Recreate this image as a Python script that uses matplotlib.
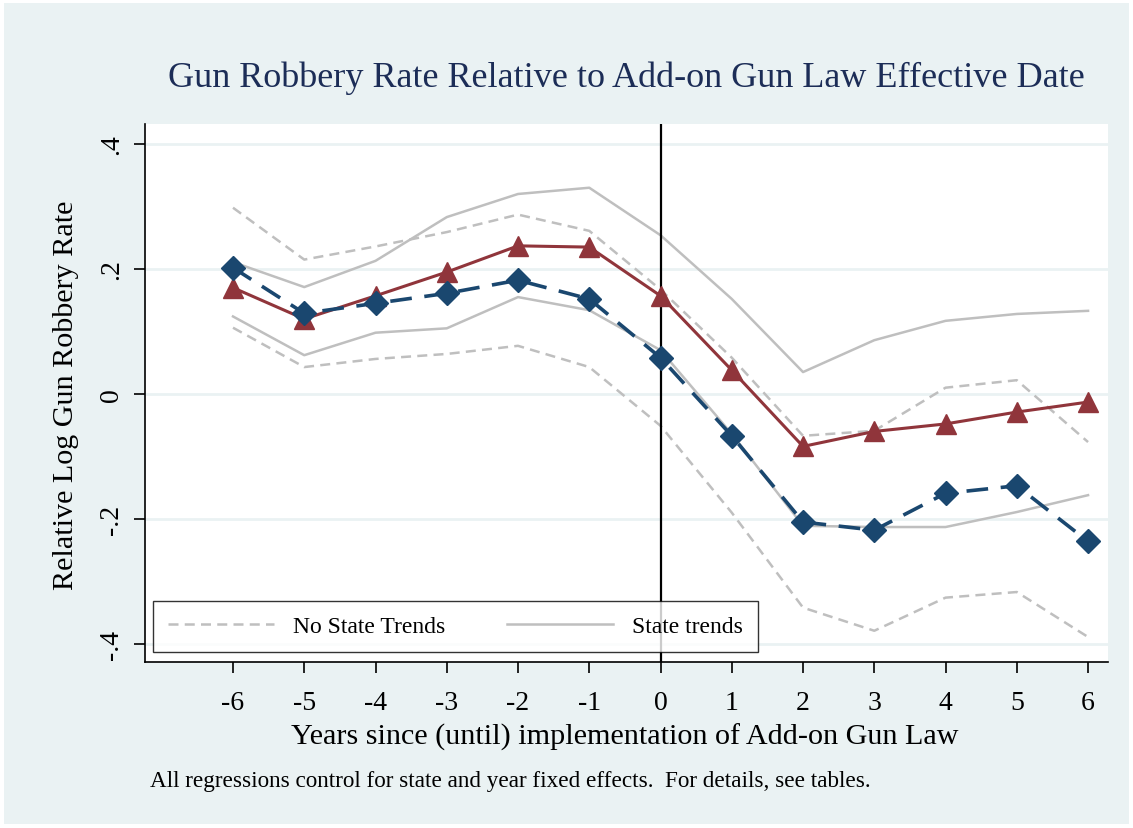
import matplotlib
matplotlib.use('Agg')
import matplotlib.pyplot as plt
from matplotlib.patches import Rectangle

plt.rcParams['font.family'] = ['Liberation Serif', 'DejaVu Serif']

years = [-6, -5, -4, -3, -2, -1, 0, 1, 2, 3, 4, 5, 6]

# point estimates
no_trends = [0.170, 0.120, 0.157, 0.195, 0.237, 0.235, 0.157, 0.038, -0.084, -0.060, -0.048, -0.029, -0.013]
state_trends = [0.202, 0.129, 0.145, 0.161, 0.182, 0.152, 0.058, -0.067, -0.205, -0.218, -0.159, -0.147, -0.236]

# confidence bands
no_trends_hi = [0.298, 0.215, 0.236, 0.259, 0.287, 0.261, 0.167, 0.058, -0.067, -0.059, 0.010, 0.022, -0.077]
no_trends_lo = [0.106, 0.043, 0.056, 0.064, 0.077, 0.043, -0.051, -0.190, -0.342, -0.379, -0.326, -0.317, -0.389]
state_hi = [0.211, 0.171, 0.213, 0.283, 0.320, 0.330, 0.254, 0.152, 0.035, 0.086, 0.117, 0.128, 0.133]
state_lo = [0.124, 0.062, 0.098, 0.105, 0.155, 0.134, 0.070, -0.064, -0.211, -0.213, -0.213, -0.189, -0.162]

yticks = [-0.4, -0.2, 0, 0.2, 0.4]
ytick_labels = ['-.4', '-.2', '0', '.2', '.4']

bg = '#eaf2f3'
gray = '#bfbfbf'
red = '#90353b'
navy = '#1a476f'

W, H = 1133, 829
fig = plt.figure(figsize=(W / 100, H / 100), dpi=100, facecolor='white')
fig.patches.append(Rectangle((4 / W, 4 / H), 1 - 8 / W, 1 - 8 / H, transform=fig.transFigure,
                             facecolor=bg, edgecolor='none', zorder=-1))

ax = fig.add_axes([145 / W, (H - 663) / H, (1108 - 145) / W, (663 - 125) / H])
ax.set_facecolor('white')

ax.plot(years, no_trends_hi, color=gray, lw=1.8, dashes=(4, 2.5), label='No State Trends', zorder=2)
ax.plot(years, no_trends_lo, color=gray, lw=1.8, dashes=(4, 2.5), zorder=2)
ax.plot(years, state_hi, color=gray, lw=1.8, label='State trends', zorder=2)
ax.plot(years, state_lo, color=gray, lw=1.8, zorder=2)

ax.plot(years, no_trends, color=red, lw=2.2, marker='^', ms=14, zorder=4)
ax.plot(years, state_trends, color=navy, lw=2.6, dashes=(6, 3.5), marker='D', ms=12, zorder=4)

ax.axvline(0, color='black', lw=1.6, zorder=3)

ax.set_xlim(-7.235, 6.28)
ax.set_ylim(-0.429, 0.432)
ax.set_xticks(years)
ax.set_xticklabels([str(y) for y in years])
ax.set_yticks(yticks)
ax.set_yticklabels(ytick_labels, rotation=90, va='center')
ax.grid(axis='y', color=bg, lw=2)
ax.set_axisbelow(True)

for s in ['top', 'right']:
    ax.spines[s].set_visible(False)
for s in ['left', 'bottom']:
    ax.spines[s].set_color('black')
    ax.spines[s].set_linewidth(1.2)
ax.tick_params(direction='out', length=8, width=1.2, colors='black', labelsize=20)
ax.tick_params(axis='x', pad=12)
ax.tick_params(axis='y', pad=7)

ax.set_xlabel('Years since (until) implementation of Add-on Gun Law', fontsize=21.7, va='center')
ax.xaxis.set_label_coords(0.498, -0.1375)
ax.set_ylabel('Relative Log Gun Robbery Rate', fontsize=21.7, va='center')
ax.yaxis.set_label_coords(-0.082, 0.498)

leg = ax.legend(loc='lower left', bbox_to_anchor=(0.0083, 0.0186, 0.628, 0.0985), mode='expand',
                ncol=2, fontsize=17, frameon=True, fancybox=False, handlelength=4.5,
                borderaxespad=0, borderpad=0.62, handletextpad=0.8, columnspacing=3)
leg.get_frame().set_edgecolor('black')
leg.get_frame().set_linewidth(1.0)

fig.text(0.5525, 1 - 78 / H, 'Gun Robbery Rate Relative to Add-on Gun Law Effective Date',
         ha='center', va='center', fontsize=26, color='#1c2d57')
fig.text(150 / W, 1 - 782 / H, 'All regressions control for state and year fixed effects.  For details, see tables.',
         ha='left', va='center', fontsize=16.7)

fig.savefig('out.png', dpi=100, facecolor=fig.get_facecolor())
